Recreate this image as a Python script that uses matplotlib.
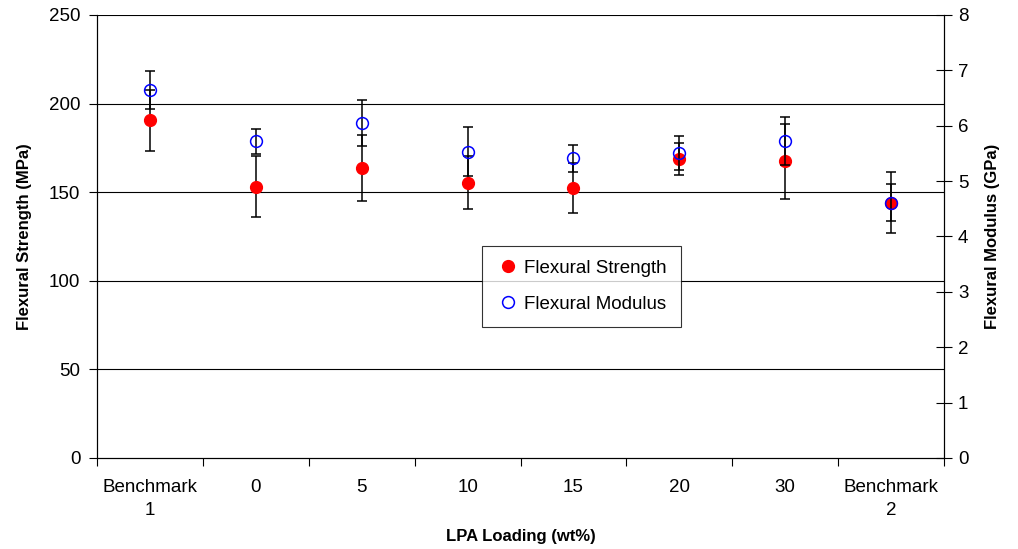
import matplotlib.pyplot as plt
from matplotlib.lines import Line2D
from matplotlib.ticker import FixedLocator, NullFormatter

plt.rcParams["font.family"] = ["Liberation Sans", "DejaVu Sans"]

CATEGORIES = ["Benchmark\n1", "0", "5", "10", "15", "20", "30", "Benchmark\n2"]
STRENGTH = [190.6, 153.1, 163.7, 155.4, 152.4, 168.6, 167.4, 144.1]
STRENGTH_ERR = [17.2, 17.3, 18.6, 15.0, 14.3, 9.1, 21.0, 17.1]
MODULUS = [6.64, 5.72, 6.05, 5.53, 5.41, 5.51, 5.72, 4.61]
MODULUS_ERR = [0.34, 0.23, 0.42, 0.44, 0.25, 0.31, 0.43, 0.33]

fig = plt.figure(figsize=(10.18, 5.49), dpi=100)
ax = fig.add_axes([0.0953, 0.1658, 0.8320, 0.8069])
ax2 = ax.twinx()

xs = list(range(len(CATEGORIES)))

ax.set_axisbelow(True)
for y in [50, 100, 150, 200, 250]:
    ax.axhline(y, color="black", linewidth=0.8, zorder=0)

ax.errorbar(xs, STRENGTH, yerr=STRENGTH_ERR, fmt="o", color="red", markersize=8.5,
            markeredgecolor="red", ecolor="black", elinewidth=1.1, capsize=3.5,
            capthick=1.1, zorder=3)
ax2.errorbar(xs, MODULUS, yerr=MODULUS_ERR, fmt="o", color="blue", markersize=8.5,
             markerfacecolor="none", markeredgecolor="blue", markeredgewidth=1.1,
             ecolor="black", elinewidth=1.1, capsize=3.5, capthick=1.1, zorder=3)

ax.set_xlim(-0.5, len(CATEGORIES) - 0.5)
ax.set_ylim(0, 250)
ax2.set_ylim(0, 8)
ax.set_yticks([0, 50, 100, 150, 200, 250])
ax2.set_yticks(range(0, 9))

ax.xaxis.set_major_locator(FixedLocator([i - 0.5 for i in range(len(CATEGORIES) + 1)]))
ax.xaxis.set_major_formatter(NullFormatter())
ax.xaxis.set_minor_locator(FixedLocator(xs))
ax.set_xticklabels(CATEGORIES, minor=True, linespacing=1.5)
ax.tick_params(axis="x", which="major", direction="out", length=6, width=0.8)
ax.tick_params(axis="x", which="minor", length=0, pad=15, labelsize=13.5)
ax.tick_params(axis="y", direction="out", length=6, width=0.8, pad=6, labelsize=13.5)
ax2.tick_params(axis="y", direction="inout", length=12, width=0.8, pad=4, labelsize=13.5)

for a in (ax, ax2):
    for side in ("left", "right", "bottom", "top"):
        a.spines[side].set_color("black")
        a.spines[side].set_linewidth(0.8)
    a.spines["top"].set_visible(False)

ax.set_xlabel("LPA Loading (wt%)", fontsize=12, fontweight="bold", labelpad=7)
ax.set_ylabel("Flexural Strength (MPa)", fontsize=12, fontweight="bold", labelpad=12)
ax2.set_ylabel("Flexural Modulus (GPa)", fontsize=12, fontweight="bold", labelpad=12)

handles = [
    Line2D([], [], linestyle="none", marker="o", markersize=8.5, color="red"),
    Line2D([], [], linestyle="none", marker="o", markersize=8.5, markerfacecolor="none",
           markeredgecolor="blue", markeredgewidth=1.1),
]
leg = ax2.legend(handles, ["Flexural Strength", "Flexural Modulus"], loc="lower left",
                 bbox_to_anchor=(0.4545, 0.2957), borderaxespad=0, fontsize=13.5,
                 frameon=True, fancybox=False, handletextpad=0.2, handlelength=1.3,
                 borderpad=0.75, labelspacing=1.0)
leg.get_frame().set_edgecolor("black")
leg.get_frame().set_linewidth(0.8)

fig.savefig("out.png", dpi=100)
